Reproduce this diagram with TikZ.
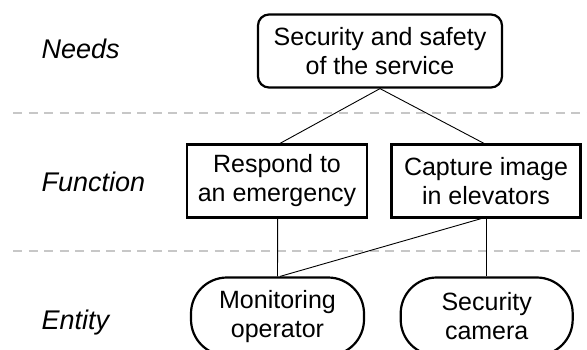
\documentclass[tikz,border=0pt]{standalone}
\usepackage{fontspec}
\setmainfont{Liberation Sans}
\begin{document}
\begin{tikzpicture}[x=1pt,y=-1pt,
  every node/.style={font=\fontsize{25}{29}\selectfont, inner sep=0pt, align=center},
  lvl/.style={font=\fontsize{27}{32}\selectfont\itshape, anchor=base west},
  needbox/.style={draw, line width=2.2pt, rounded corners=11pt, minimum width=244pt, minimum height=73pt},
  funcbox/.style={draw, line width=2.2pt, minimum height=73pt},
  entbox/.style={draw, line width=2.2pt, rounded corners=36pt, minimum height=78pt},
  sep/.style={draw=black!22, line width=2pt, dash pattern=on 9pt off 6.5pt},
  link/.style={draw, line width=0.9pt}]
\useasboundingbox (0,0) rectangle (587,349);
\coordinate (s1a) at (13,112.7); \coordinate (s1b) at (587,112.7);
\coordinate (s2a) at (13,251); \coordinate (s2b) at (587,251);
\draw[sep] (s1a) -- (s1b);
\draw[sep] (s2a) -- (s2b);
\node[lvl] (lneeds) at (41.5,58) {Needs};
\node[lvl] (lfunc) at (41.5,191.7) {Function};
\node[lvl] (lent) at (41.5,329.3) {Entity};
\node[needbox] (need) at (380,51) {Security and safety\\of the service};
\node[funcbox, minimum width=180pt] (resp) at (277,181) {Respond to\\an emergency};
\node[funcbox, minimum width=189pt] (capt) at (486,181) {Capture image\\in elevators};
\node[entbox, minimum width=173pt] (mon) at (277.5,316.5) {Monitoring\\operator};
\node[entbox, minimum width=172pt] (cam) at (486.7,316.5) {Security\\camera};
\draw[link] (need.south) -- ([xshift=3pt]resp.north);
\draw[link] (need.south) -- ([xshift=-2pt]capt.north);
\draw[link] ([xshift=0.7pt]resp.south) -- (mon.north);
\draw[link] ([xshift=-4.7pt]capt.south) -- ([xshift=2.5pt]mon.north);
\draw[link] (capt.south) -- ([xshift=-0.7pt]cam.north);
\end{tikzpicture}
\end{document}
